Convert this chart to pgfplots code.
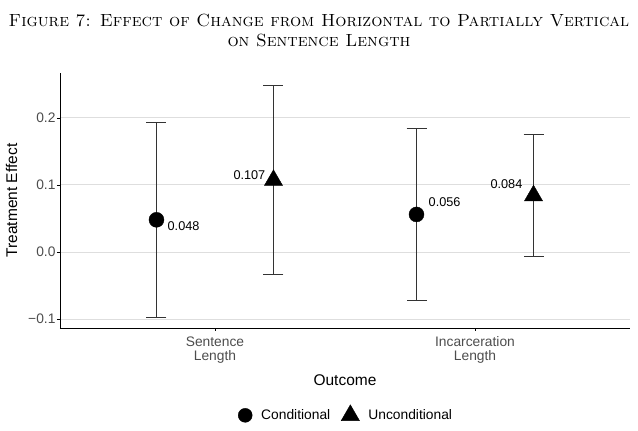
\documentclass[border=0pt]{standalone}
\usepackage{fontspec}
\usepackage{pgfplots}
\pgfplotsset{compat=1.18}
\newfontfamily\arial{Liberation Sans}
\definecolor{gridgray}{HTML}{DEDEDE}
\definecolor{tickgray}{HTML}{4D4D4D}
\definecolor{barcol}{HTML}{333333}
\begin{document}
\begin{tikzpicture}
\useasboundingbox (-60pt,-103pt) rectangle (578pt,328pt);
\node[font=\fontsize{17.6}{20}\selectfont\scshape, align=center, inner sep=0pt] at (259pt,298pt)
 {Figure 7: Effect of Change from Horizontal to Partially Vertical\\on Sentence Length};
\begin{axis}[
  at={(0pt,0pt)}, anchor=south west,
  scale only axis, width=570pt, height=255pt,
  xmin=0.404, xmax=2.596, ymin=-0.1134, ymax=0.267,
  axis x line*=bottom, axis y line*=left,
  axis line style={black, line width=0.9pt, -},
  xtick={1,2},
  xticklabels={{Sentence\\Length},{Incarceration\\Length}},
  xticklabel style={align=center, font=\arial\fontsize{13.8}{14}\selectfont, text=tickgray, yshift=-2pt},
  ytick={-0.1,0,0.1,0.2},
  yticklabels={−0.1,0.0,0.1,0.2},
  yticklabel style={font=\arial\fontsize{13.8}{16}\selectfont, text=tickgray, xshift=2pt},
  tick align=outside, major tick length=3pt,
  tick style={black, line width=0.6pt},
  ymajorgrids, grid style={gridgray, line width=0.9pt},
  xlabel={Outcome}, ylabel={Treatment Effect},
  xlabel style={font=\arial\fontsize{15.5}{17}\selectfont, yshift=-4pt},
  ylabel style={font=\arial\fontsize{15.5}{17}\selectfont, yshift=4pt},
  legend style={at={(0.502,-0.337)}, anchor=center, draw=none, fill=none,
    legend columns=2, font=\arial\fontsize{13.8}{16}\selectfont,
    /tikz/every odd column/.append style={column sep=7pt},
    /tikz/every even column/.append style={column sep=9pt}},
  legend cell align=left,
  clip=false,
]
\addlegendimage{only marks, mark=*, mark size=7pt, black}
\addlegendentry{Conditional}
\addlegendimage{only marks, mark=triangle*, mark size=10.5pt, black}
\addlegendentry{Unconditional}
% Conditional
\addplot[forget plot, only marks, mark=*, mark size=7.5pt, black,
  error bars/.cd, y dir=both, y explicit,
  error bar style={barcol, line width=0.7pt},
  error mark options={barcol, rotate=90, mark size=10pt, line width=0.7pt}]
  coordinates {(0.775,0.048) += (0,0.146) -= (0,0.145)
               (1.775,0.056) += (0,0.129) -= (0,0.128)};
% Unconditional
\addplot[forget plot, only marks, mark=triangle*, mark size=10.5pt, black,
  error bars/.cd, y dir=both, y explicit,
  error bar style={barcol, line width=0.7pt},
  error mark options={barcol, rotate=90, mark size=10pt, line width=0.7pt}]
  coordinates {(1.225,0.107) += (0,0.142) -= (0,0.141)
               (2.225,0.084) += (0,0.091) -= (0,0.090)};
% labels
\pgfplotsset{lab/.style={forget plot, draw=none, mark=none, nodes near coords, point meta=explicit symbolic,
  every node near coord/.append style={font=\arial\fontsize{12.7}{14}\selectfont, inner sep=0pt, #1}}}
\addplot[lab={anchor=west, xshift=11pt, yshift=-6pt}] coordinates {(0.775,0.048) [0.048]};
\addplot[lab={anchor=east, xshift=-8pt, yshift=5pt}] coordinates {(1.225,0.107) [0.107]};
\addplot[lab={anchor=west, xshift=12pt, yshift=12pt}] coordinates {(1.775,0.056) [0.056]};
\addplot[lab={anchor=east, xshift=-11pt, yshift=12pt}] coordinates {(2.225,0.084) [0.084]};
\end{axis}
\end{tikzpicture}
\end{document}
